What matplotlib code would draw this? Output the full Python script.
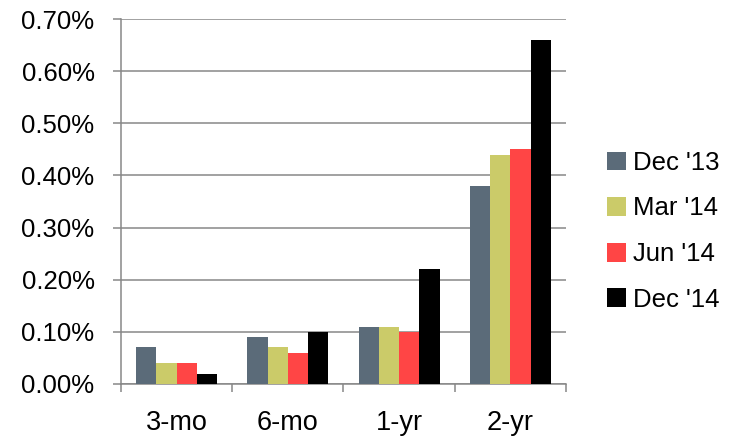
import numpy as np
import matplotlib
matplotlib.use('Agg')
import matplotlib.pyplot as plt
from matplotlib.ticker import FuncFormatter

plt.rcParams['font.family'] = ['Liberation Sans', 'DejaVu Sans']

# data (percent)
categories = ['3-mo', '6-mo', '1-yr', '2-yr']
series_names = ["Dec '13", "Mar '14", "Jun '14", "Dec '14"]
dec13 = [0.07, 0.09, 0.11, 0.38]
mar14 = [0.04, 0.07, 0.11, 0.44]
jun14 = [0.04, 0.06, 0.10, 0.45]
dec14 = [0.02, 0.10, 0.22, 0.66]
colors = ['#5B6B79', '#CBCB69', '#FF4545', '#000000']

fig = plt.figure(figsize=(7.32, 4.38), dpi=100)
ax = fig.add_axes([0.1653, 0.1233, 0.6079, 0.8333])

x = np.arange(len(categories))
w = 0.182
for i, (vals, name) in enumerate(zip([dec13, mar14, jun14, dec14], series_names)):
    ax.bar(x + (i - 1.5) * w, vals, w, color=colors[i], label=name, zorder=3)

grid_c = '#878787'
ax.set_ylim(0, 0.70)
ax.set_xlim(-0.5, 3.5)
ax.set_yticks(np.arange(0, 0.71, 0.1))
ax.yaxis.set_major_formatter(FuncFormatter(lambda v, p: '%.2f%%' % v))
ax.yaxis.grid(True, color=grid_c, lw=1.1, zorder=0)

# category labels centred, ticks at the boundaries
ax.set_xticks(np.arange(-0.5, 4, 1))
ax.set_xticklabels([])
ax.set_xticks(x, minor=True)
ax.set_xticklabels(categories, minor=True, fontsize=19.5)
ax.tick_params(axis='x', which='minor', length=0, pad=19)
ax.tick_params(axis='x', which='major', length=6, width=1.1, color=grid_c)
ax.tick_params(axis='y', length=6, width=1.1, color=grid_c, labelsize=18.5, pad=13)

for s in ['top', 'right']:
    ax.spines[s].set_visible(False)
for s in ['left', 'bottom']:
    ax.spines[s].set_color(grid_c)
    ax.spines[s].set_linewidth(1.1)

fig.legend(loc='center left', bbox_to_anchor=(0.808, 0.472), frameon=False,
           fontsize=18.5, handlelength=0.75, handleheight=0.75, handletextpad=0.25,
           labelspacing=0.84, borderaxespad=0.2)

fig.savefig('out.png', dpi=100)
